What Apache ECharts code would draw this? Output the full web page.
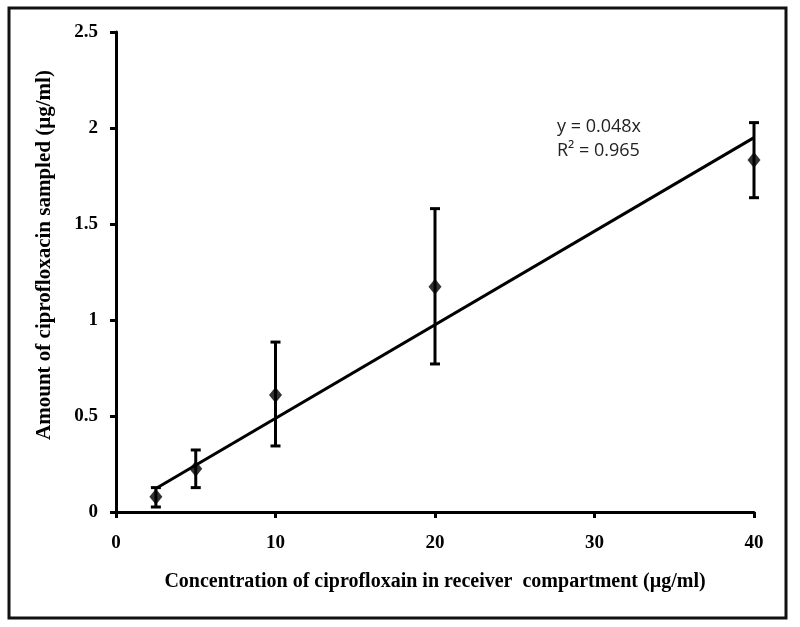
<!DOCTYPE html>
<html><head><meta charset="utf-8">
<script src="https://cdn.jsdelivr.net/npm/echarts@6/dist/echarts.min.js"></script>
<style>html,body{margin:0;padding:0;background:#fff}#c{width:800px;height:627px}</style>
</head><body><div id="c"></div>
<script>
const xValues = [2.5, 5, 10, 20, 40];
const yMeans = [0.08, 0.225, 0.61, 1.173, 1.833];
const yLow = [0.026, 0.127, 0.344, 0.771, 1.637];
const yHigh = [0.127, 0.323, 0.885, 1.58, 2.028];
const trendX = [2.5, 40];
const trendY = [0.122, 1.95];
const xTicks = [0, 10, 20, 30, 40];
const yTicks = [0, 0.5, 1, 1.5, 2, 2.5];
const eqText = ['y = 0.048x', 'R\u00b2 = 0.965'];
const xTitle = 'Concentration of ciprofloxain in receiver  compartment (\u00b5g/ml)';
const yTitle = 'Amount of ciprofloxacin sampled (\u00b5g/ml)';

const chart = echarts.init(document.getElementById('c'), null, {renderer:'canvas'});
const serif = 'Liberation Serif, Times New Roman, serif';
chart.setOption({
  animation:false,
  backgroundColor:'#fff',
  grid:{left:116, right:46, top:32, bottom:115},
  xAxis:{type:'value', min:xTicks[0], max:xTicks[xTicks.length-1], interval:10,
    axisLine:{lineStyle:{color:'#000', width:3}},
    axisTick:{show:true, length:6, lineStyle:{color:'#000', width:3}},
    splitLine:{show:false},
    axisLabel:{color:'#000', fontFamily:serif, fontWeight:'bold', fontSize:19, margin:22},
    name:xTitle, nameLocation:'middle', nameGap:60,
    nameTextStyle:{color:'#000', fontFamily:serif, fontWeight:'bold', fontSize:20}
  },
  yAxis:{type:'value', min:yTicks[0], max:yTicks[yTicks.length-1], interval:0.5,
    axisLine:{show:true, lineStyle:{color:'#000', width:3}},
    axisTick:{show:true, length:6, lineStyle:{color:'#000', width:3}},
    splitLine:{show:false},
    axisLabel:{color:'#000', fontFamily:serif, fontWeight:'bold', fontSize:19, margin:18}
  },
  series:[
    {type:'line', data:trendX.map((x,i)=>[x,trendY[i]]), symbol:'none',
      lineStyle:{color:'#000', width:3}, z:2},
    {type:'custom', data:xValues.map((x,i)=>[x,yLow[i],yHigh[i]]), z:3,
      renderItem:function(params, api){
        const x = api.value(0);
        const lo = api.coord([x, api.value(1)]);
        const hi = api.coord([x, api.value(2)]);
        const w = 5;
        const st = {stroke:'#000', lineWidth:3};
        return {type:'group', children:[
          {type:'line', shape:{x1:lo[0], y1:lo[1], x2:hi[0], y2:hi[1]}, style:st},
          {type:'line', shape:{x1:lo[0]-w, y1:lo[1], x2:lo[0]+w, y2:lo[1]}, style:st},
          {type:'line', shape:{x1:hi[0]-w, y1:hi[1], x2:hi[0]+w, y2:hi[1]}, style:st}
        ]};
      }},
    {type:'scatter', data:xValues.map((x,i)=>[x,yMeans[i]]), symbol:'diamond',
      symbolSize:[13,16], itemStyle:{color:'#000'}, z:4}
  ],
  graphic:[
    {type:'rect', shape:{x:9, y:8, width:777, height:610}, style:{fill:'none', stroke:'#111', lineWidth:3}, z:10},
    {type:'text', x:45, y:255, rotation:Math.PI/2,
      style:{text:yTitle, font:'bold 21px ' + serif, fill:'#000', align:'center', verticalAlign:'middle'}},
    {type:'text', left:557, top:115, style:{text:eqText.join('\n'), font:'18px "Open Sans", Liberation Sans, sans-serif', fill:'#222', lineHeight:24}}
  ]
});
</script></body></html>
